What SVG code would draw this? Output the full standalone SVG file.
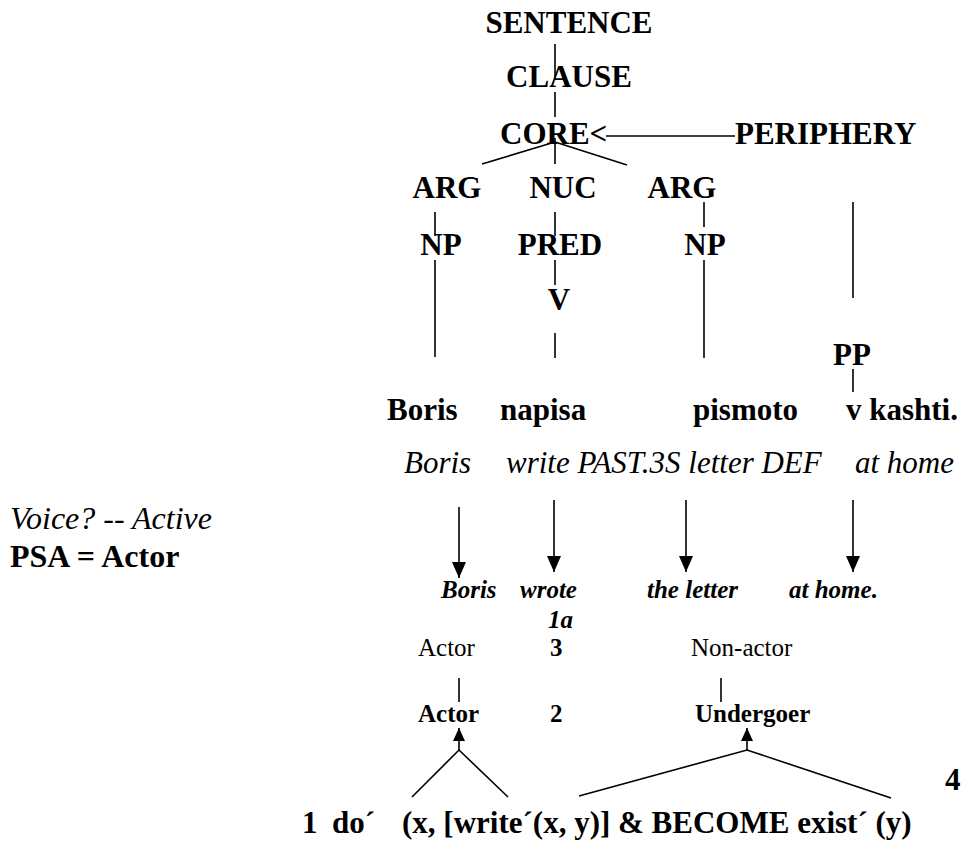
<svg xmlns="http://www.w3.org/2000/svg" width="966" height="841" viewBox="0 0 966 841">
  <defs>
    <style>
      .t { font-family: 'Liberation Serif', 'Times New Roman', Times, serif; fill: #000; }
      .node { font-size: 31px; font-weight: bold; text-anchor: middle; }
      .word { font-size: 31px; font-weight: bold; }
      .gloss { font-size: 31px; font-style: italic; }
      .note { font-size: 32px; }
      .trans { font-size: 25px; font-weight: bold; font-style: italic; }
      .role { font-size: 25px; }
      .brole { font-size: 25px; font-weight: bold; }
      .ln { stroke: #000; stroke-width: 1.6; fill: none; }
    </style>
    <marker id="arrowHead" viewBox="0 0 16 14" refX="16" refY="7" markerWidth="16" markerHeight="14" markerUnits="userSpaceOnUse" orient="auto">
      <path d="M0,0 L16,7 L0,14 z" fill="#000"/>
    </marker>
    <marker id="arrowHeadSmall" viewBox="0 0 13 12" refX="13" refY="6" markerWidth="13" markerHeight="12" markerUnits="userSpaceOnUse" orient="auto">
      <path d="M0,0 L13,6 L0,12 z" fill="#000"/>
    </marker>
  </defs>

  <g class="t">
    <!-- side notes -->
    <g id="voice">
      <text class="note" font-style="italic" x="10" y="529">Voice? -- Active</text>
    </g>
    <g id="psa">
      <text class="note" font-weight="bold" x="10" y="567">PSA = Actor</text>
    </g>

    <!-- layered structure of the clause -->
    <g id="sentence"><text class="node" x="569" y="33">SENTENCE</text></g>
    <g id="clause"><text class="node" x="569" y="87">CLAUSE</text></g>
    <g id="core"><text class="word" x="500" y="144">CORE&lt;</text></g>
    <g id="periphery"><text class="word" x="735" y="144">PERIPHERY</text></g>
    <g id="arg1"><text class="node" x="447" y="198">ARG</text></g>
    <g id="nuc"><text class="node" x="563" y="198">NUC</text></g>
    <g id="arg2"><text class="node" x="682" y="198">ARG</text></g>
    <g id="np1"><text class="node" x="441" y="255">NP</text></g>
    <g id="pred"><text class="node" x="560" y="255">PRED</text></g>
    <g id="np2"><text class="node" x="705" y="255">NP</text></g>
    <g id="v"><text class="node" x="559" y="310">V</text></g>
    <g id="pp"><text class="node" x="852" y="365">PP</text></g>

    <!-- Bulgarian sentence -->
    <g id="words">
      <text class="word" x="387" y="420">Boris</text>
      <text class="word" x="500" y="420">napisa</text>
      <text class="word" x="693" y="420">pismoto</text>
      <text class="word" x="846" y="420">v kashti.</text>
    </g>
    <!-- interlinear gloss -->
    <g id="gloss">
      <text class="gloss" x="404" y="473">Boris</text>
      <text class="gloss" x="506" y="473">write PAST.3S letter DEF</text>
      <text class="gloss" x="855" y="473">at home</text>
    </g>
    <!-- English translation -->
    <g id="translation">
      <text class="trans" x="441" y="598">Boris</text>
      <text class="trans" x="520" y="598">wrote</text>
      <text class="trans" x="647" y="598">the letter</text>
      <text class="trans" x="789" y="598">at home.</text>
      <text class="trans" x="548" y="628">1a</text>
    </g>

    <!-- thematic relations and macroroles -->
    <g id="actor-role"><text class="role" x="418" y="656">Actor</text></g>
    <g id="step3"><text class="brole" x="550" y="656">3</text></g>
    <g id="nonactor-role"><text class="role" x="691" y="656">Non-actor</text></g>
    <g id="actor-macro"><text class="brole" x="418" y="722">Actor</text></g>
    <g id="step2"><text class="brole" x="550" y="722">2</text></g>
    <g id="undergoer-macro"><text class="brole" x="695" y="722">Undergoer</text></g>
    <g id="step4"><text class="word" x="945" y="790">4</text></g>

    <!-- logical structure -->
    <g id="logical-structure">
      <text class="word" y="833"><tspan x="302">1</tspan><tspan x="332">do´</tspan><tspan x="402">(x, [write´(x, y)] &amp; BECOME exist´ (y)</tspan></text>
    </g>
  </g>

  <!-- connectors -->
  <g id="connectors" class="ln">
    <line x1="555" y1="44" x2="555" y2="78"/>
    <line x1="555" y1="92" x2="555" y2="117"/>
    <line x1="555" y1="138" x2="555" y2="164"/>
    <line x1="606" y1="136" x2="735" y2="136"/>
    <line x1="555" y1="142" x2="482" y2="164"/>
    <line x1="555" y1="142" x2="627" y2="165"/>
    <line x1="435" y1="212" x2="435" y2="236"/>
    <line x1="555" y1="212" x2="555" y2="236"/>
    <line x1="704" y1="202" x2="704" y2="227"/>
    <line x1="435" y1="260" x2="435" y2="357"/>
    <line x1="704" y1="260" x2="704" y2="358"/>
    <line x1="555" y1="260" x2="555" y2="285"/>
    <line x1="555" y1="333" x2="555" y2="358"/>
    <line x1="853" y1="202" x2="853" y2="298"/>
    <line x1="853" y1="369" x2="853" y2="392"/>
    <line x1="459" y1="507" x2="459" y2="578" marker-end="url(#arrowHead)"/>
    <line x1="554" y1="500" x2="554" y2="572" marker-end="url(#arrowHead)"/>
    <line x1="686" y1="500" x2="686" y2="572" marker-end="url(#arrowHead)"/>
    <line x1="853" y1="500" x2="853" y2="572" marker-end="url(#arrowHead)"/>
    <line x1="459" y1="678" x2="459" y2="702"/>
    <line x1="721" y1="678" x2="721" y2="702"/>
    <line x1="459" y1="750" x2="459" y2="728" marker-end="url(#arrowHeadSmall)"/>
    <line x1="747" y1="750" x2="747" y2="728" marker-end="url(#arrowHeadSmall)"/>
    <polyline points="412,797 459,750 508,797"/>
    <polyline points="579,796 747,750 891,798"/>
  </g>
</svg>
